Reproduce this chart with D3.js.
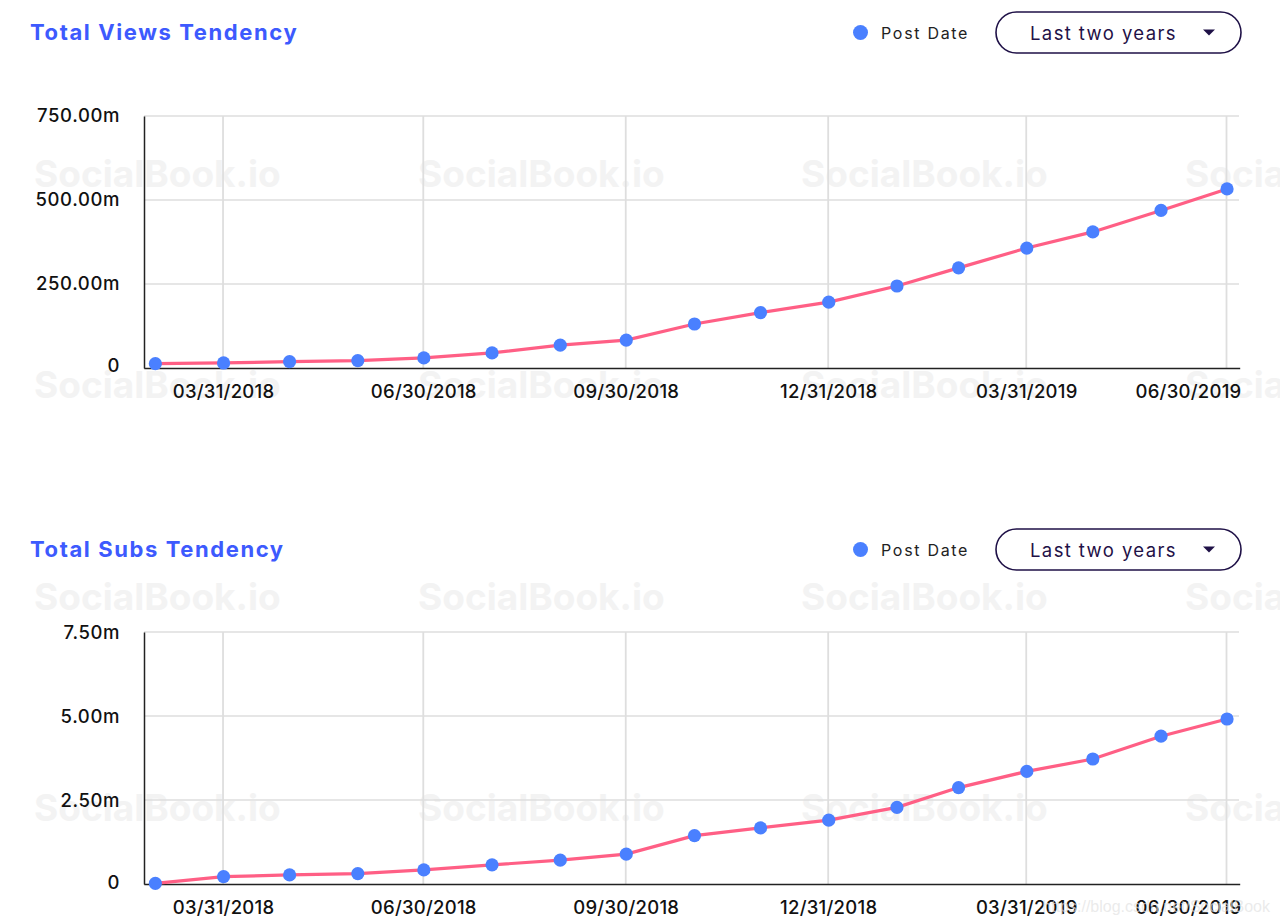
<!DOCTYPE html>
<html>
<head>
<meta charset="utf-8">
<script src="https://cdn.jsdelivr.net/npm/d3@7"></script>
<style>
  html, body { margin: 0; padding: 0; background: #fff; }
  svg { display: block; font-family: Inter, "Open Sans", sans-serif; }
</style>
</head>
<body>
<div id="chart"></div>
<script>
const dates = [
  '2018-02-28', '2018-03-31', '2018-04-30', '2018-05-31', '2018-06-30', '2018-07-31',
  '2018-08-31', '2018-09-30', '2018-10-31', '2018-11-30', '2018-12-31', '2019-01-31',
  '2019-02-28', '2019-03-31', '2019-04-30', '2019-05-31', '2019-06-30'
]
const viewsValues = [13, 15, 19, 22, 30, 45, 68, 83, 131, 165, 196, 244, 298, 357, 405, 469, 533]
const subsValues = [0.02, 0.22, 0.27, 0.31, 0.42, 0.57, 0.71, 0.89, 1.44, 1.67, 1.9, 2.28, 2.87, 3.35, 3.72, 4.4, 4.91]
const tickDates = ['2018-03-31', '2018-06-30', '2018-09-30', '2018-12-31', '2019-03-31', '2019-06-30']
const viewsTicks = [0, 250, 500, 750]
const subsTicks = [0, 2.5, 5, 7.5]
const watermarkRows = [187, 398, 610, 821]
const watermarkCols = [34, 418, 801, 1185]

const parse = d3.timeParse('%Y-%m-%d')
const formatTick = d3.timeFormat('%m/%d/%Y')
const axisFont = 'Inter, "Open Sans", sans-serif'

const svg = d3
  .select('#chart')
  .append('svg')
  .attr('width', 1280)
  .attr('height', 924)

// watermark goes under everything
watermarkRows.forEach(y => {
  watermarkCols.forEach(x => {
    svg
      .append('text')
      .attr('x', x)
      .attr('y', y)
      .attr('fill', '#f3f3f3')
      .attr('font-size', 37)
      .attr('font-weight', 700)
      .text('SocialBook.io')
  })
})

const x = d3
  .scaleTime()
  .domain([parse('2018-02-23'), parse('2019-07-06')])
  .range([143.8, 1239.7])

function drawPanel(opts) {
  const y = d3
    .scaleLinear()
    .domain([0, opts.ticks[opts.ticks.length - 1]])
    .range([opts.bottom, opts.bottom - 252])

  svg
    .append('text')
    .attr('x', 30)
    .attr('y', opts.header + 7.5)
    .attr('fill', '#3d5afe')
    .attr('font-size', 22)
    .attr('font-weight', 700)
    .attr('letter-spacing', 1.6)
    .text(opts.title)

  // legend
  svg
    .append('circle')
    .attr('cx', 860.5)
    .attr('cy', opts.header)
    .attr('r', 7.5)
    .attr('fill', '#4a80ff')
  svg
    .append('text')
    .attr('x', 881)
    .attr('y', opts.header + 6)
    .attr('fill', '#222')
    .attr('font-size', 16)
    .attr('letter-spacing', 1.7)
    .text('Post Date')

  // dropdown
  svg
    .append('rect')
    .attr('x', 996)
    .attr('y', opts.header - 20.5)
    .attr('width', 245)
    .attr('height', 41)
    .attr('rx', 20.5)
    .attr('fill', '#fff')
    .attr('stroke', '#1f1147')
    .attr('stroke-width', 1.6)
  svg
    .append('text')
    .attr('x', 1030)
    .attr('y', opts.header + 7)
    .attr('fill', '#1f1147')
    .attr('font-size', 18.5)
    .attr('letter-spacing', 1.4)
    .text('Last two years')
  svg
    .append('path')
    .attr('d', d3.line()([[1203, opts.header - 3], [1215, opts.header - 3], [1209, opts.header + 3]]) + 'Z')
    .attr('fill', '#1f1147')

  // gridlines
  const grid = svg.append('g')
  grid
    .selectAll('.h')
    .data(opts.ticks.slice(1))
    .enter()
    .append('line')
    .attr('x1', 144)
    .attr('x2', 1239)
    .attr('y1', d => y(d))
    .attr('y2', d => y(d))
    .attr('stroke', '#dedede')
    .attr('stroke-width', 1.6)
  grid
    .selectAll('.v')
    .data(tickDates)
    .enter()
    .append('line')
    .attr('x1', d => x(parse(d)))
    .attr('x2', d => x(parse(d)))
    .attr('y1', y.range()[1])
    .attr('y2', y.range()[0])
    .attr('stroke', '#dedede')
    .attr('stroke-width', 1.8)

  // axes
  const yAxis = svg
    .append('g')
    .attr('transform', 'translate(144,0)')
    .call(
      d3
        .axisLeft(y)
        .tickValues(opts.ticks)
        .tickSize(0)
        .tickPadding(24)
        .tickFormat(opts.format)
    )
  yAxis.select('.domain').attr('stroke', '#222').attr('stroke-width', 1.5)
  yAxis
    .selectAll('text')
    .attr('font-family', axisFont)
    .attr('font-size', 18.5)
    .attr('font-weight', 500)
    .attr('letter-spacing', 0.6)
    .attr('fill', '#111')
    .attr('y', d => (d === 0 ? opts.zeroNudge : opts.labelNudge))

  const xAxis = svg
    .append('g')
    .attr('transform', 'translate(0,' + opts.bottom + ')')
    .call(
      d3
        .axisBottom(x)
        .tickValues(tickDates.map(parse))
        .tickSize(0)
        .tickPadding(17)
        .tickFormat(formatTick)
    )
  xAxis.select('.domain').attr('stroke', '#222').attr('stroke-width', 1.5)
  xAxis
    .selectAll('text')
    .attr('font-family', axisFont)
    .attr('font-size', 18.5)
    .attr('font-weight', 500)
    .attr('letter-spacing', 0.25)
    .attr('fill', '#111')
  // last label is pulled back so it stays in the plot
  xAxis
    .selectAll('.tick:last-of-type text')
    .attr('text-anchor', 'end')
    .attr('dx', 14.5)

  const points = dates.map((d, i) => ({ date: d3.timeHour.offset(parse(d), 6), value: opts.values[i] }))

  const line = d3
    .line()
    .x(d => x(d.date))
    .y(d => y(d.value))

  svg
    .append('path')
    .datum(points)
    .attr('d', line)
    .attr('fill', 'none')
    .attr('stroke', '#ff5f85')
    .attr('stroke-width', 3.2)

  svg
    .selectAll('.dot-' + opts.bottom)
    .data(points)
    .enter()
    .append('circle')
    .attr('cx', d => x(d.date))
    .attr('cy', d => y(d.value))
    .attr('r', 6.6)
    .attr('fill', '#4a80ff')
}

drawPanel({
  title: 'Total Views Tendency',
  bottom: 368,
  header: 32.5,
  labelNudge: 0,
  zeroNudge: -2,
  values: viewsValues,
  ticks: viewsTicks,
  format: d => (d === 0 ? '0' : d.toFixed(2) + 'm')
})

drawPanel({
  title: 'Total Subs Tendency',
  bottom: 884,
  header: 549.5,
  labelNudge: 1,
  zeroNudge: -1,
  values: subsValues,
  ticks: subsTicks,
  format: d => (d === 0 ? '0' : d.toFixed(2) + 'm')
})

// blog stamp in the bottom corner
svg
  .append('text')
  .attr('x', 1270)
  .attr('y', 912)
  .attr('text-anchor', 'end')
  .attr('fill', '#e2e2e2')
  .attr('fill-opacity', 0.7)
  .attr('font-size', 16)
  .attr('font-family', 'Arial, Liberation Sans, sans-serif')
  .text('https://blog.csdn.net/SocialBook')
</script>
</body>
</html>
